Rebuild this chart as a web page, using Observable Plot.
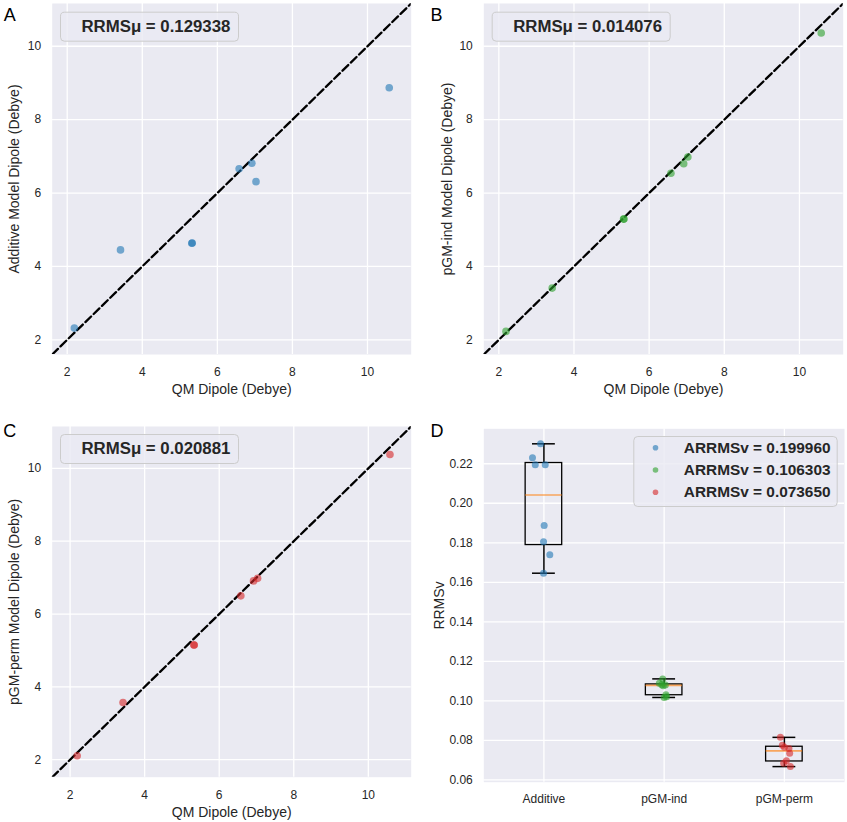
<!DOCTYPE html>
<html><head><meta charset="utf-8">
<script src="https://cdn.jsdelivr.net/npm/d3@7"></script>
<script src="https://cdn.jsdelivr.net/npm/@observablehq/plot@0.6"></script>
<style>
body{margin:0;background:#fff;}
#wrap{position:relative;width:847px;height:822px;overflow:hidden;}
#wrap svg{position:absolute;}
</style></head><body><div id="wrap"></div>
<script>
// ---- data ----
const qmDipole       = [2.19, 3.42, 5.32, 5.33, 6.58, 6.92, 7.03, 10.58];
const additiveDipole = [2.32, 4.45, 4.63, 4.64, 6.66, 6.81, 6.31, 8.87];
const pgmIndDipole   = [2.23, 3.41, 5.29, 5.29, 6.54, 6.80, 6.98, 10.36];
const pgmPermDipole  = [2.11, 3.57, 5.15, 5.15, 6.50, 6.91, 6.98, 10.38];
const rrmsMu = ["0.129338", "0.014076", "0.020881"];
const dipoleTicks = [2, 4, 6, 8, 10];

const categories = ["Additive", "pGM-ind", "pGM-perm"];
const rrmsvAdditive = [0.2301, 0.2230, 0.2195, 0.2195, 0.1888, 0.1805, 0.1739, 0.1646];
const jitterAdditive = [-0.028, -0.095, -0.072, 0.011, 0.002, -0.003, 0.049, -0.003];
const rrmsvInd = [0.1111, 0.1089, 0.1081, 0.1080, 0.1076, 0.1031, 0.1020, 0.1017];
const jitterInd = [-0.012, -0.04, -0.02, 0.01, -0.008, 0.015, 0.02, 0.0];
const rrmsvPerm = [0.0815, 0.0775, 0.0765, 0.0758, 0.0735, 0.0696, 0.0684, 0.0667];
const jitterPerm = [-0.033, -0.017, 0.0, 0.038, 0.044, 0.017, -0.006, 0.05];
const arrmsv = ["0.199960", "0.106303", "0.073650"];
const rrmsvTicks = [0.06, 0.08, 0.10, 0.12, 0.14, 0.16, 0.18, 0.20, 0.22];

const colors = ["#1f77b4", "#2ca02c", "#d62728"];
const BG = "#EAEAF2";
const FONT = "'Liberation Sans', Arial, sans-serif";
const INK = "#262626";

const wrap = document.getElementById("wrap");

function place(svg, left, top) {
  svg.style.left = left + "px";
  svg.style.top = top + "px";
  wrap.appendChild(svg);
}

function scatterPanel(o) {
  const data = qmDipole.map((q, i) => ({x: q, y: o.yValues[i]}));
  const diag = o.domain.map(v => ({x: v, y: v}));
  const frameW = o.width - o.ml - o.mr;
  const frameH = o.height - o.mt - o.mb;
  return Plot.plot({
    width: o.width, height: o.height,
    marginLeft: o.ml, marginRight: o.mr, marginTop: o.mt, marginBottom: o.mb,
    style: {background: "transparent", fontFamily: FONT, fontSize: "12px", color: INK, overflow: "visible"},
    x: {domain: o.domain},
    y: {domain: o.domain},
    marks: [
      Plot.frame({fill: BG, stroke: null}),
      Plot.gridX(dipoleTicks, {stroke: "white", strokeOpacity: 1, strokeWidth: 1.3}),
      Plot.gridY(dipoleTicks, {stroke: "white", strokeOpacity: 1, strokeWidth: 1.3}),
      Plot.axisX(dipoleTicks, {tickSize: 0, tickPadding: 13, label: null, fontSize: 12}),
      Plot.axisY(dipoleTicks, {tickSize: 0, tickPadding: 11, label: null, fontSize: 12}),
      Plot.line(diag, {x: "x", y: "y", stroke: "black", strokeWidth: 2.3, strokeDasharray: "8,3.6", clip: true}),
      Plot.dot(data, {x: "x", y: "y", r: 3.8, fill: o.color, fillOpacity: 0.6, stroke: null}),
      // legend box
      Plot.frame({fill: BG, fillOpacity: 0.8, stroke: "#cccccc", strokeWidth: 1, rx: 4,
        insetLeft: o.legL, insetRight: frameW - o.legL - 178, insetTop: o.legT, insetBottom: frameH - o.legT - 29}),
      Plot.text(["RRMSμ = " + o.mu], {frameAnchor: "top-left", dx: o.legL + 21, dy: o.legT + 19.3,
        lineAnchor: "bottom", textAnchor: "start", fontSize: 16.8, fontWeight: "bold", fill: INK}),
      // axis labels
      Plot.text(["QM Dipole (Debye)"], {frameAnchor: "bottom", dy: o.xlabDy, lineAnchor: "middle", fontSize: 14, fill: INK}),
      Plot.text([o.ylabel], {frameAnchor: "left", dx: o.ylabDx, rotate: -90, lineAnchor: "middle", textAnchor: "middle", fontSize: 14, fill: INK}),
      // panel letter
      Plot.text([o.letter], {frameAnchor: "top-left", dx: o.letDx, dy: o.letDy, lineAnchor: "bottom", textAnchor: "start", fontSize: 18, fill: "#000"})
    ]
  });
}

place(scatterPanel({yValues: additiveDipole, color: colors[0], ylabel: "Additive Model Dipole (Debye)", mu: rrmsMu[0], letter: "A",
  domain: [1.6, 11.165], width: 420, height: 400, ml: 51.7, mr: 9.3, mt: 3, mb: 46,
  legL: 8.3, legT: 8.7, xlabDy: 34.8, ylabDx: -38, letDx: -48.4, letDy: 17.7}), 0, 0);

place(scatterPanel({yValues: pgmIndDipole, color: colors[1], ylabel: "pGM-ind Model Dipole (Debye)", mu: rrmsMu[1], letter: "B",
  domain: [1.6, 11.165], width: 427, height: 400, ml: 63.3, mr: 4.3, mt: 3, mb: 46,
  legL: 8.4, legT: 8.7, xlabDy: 34.8, ylabDx: -35.8, letDx: -53.3, letDy: 17.7}), 420, 0);

place(scatterPanel({yValues: pgmPermDipole, color: colors[2], ylabel: "pGM-perm Model Dipole (Debye)", mu: rrmsMu[2], letter: "C",
  domain: [1.52, 11.15], width: 420, height: 422, ml: 51.7, mr: 9.3, mt: 26, mb: 45.3,
  legL: 8.3, legT: 8, xlabDy: 35, ylabDx: -37.2, letDx: -49, letDy: 10.7}), 0, 400);

// ---- panel D ----
const series = [rrmsvAdditive, rrmsvInd, rrmsvPerm];
const jitters = [jitterAdditive, jitterInd, jitterPerm];
const points = series.flatMap((vals, g) => vals.map((v, i) => ({x: g + 1 + jitters[g][i], y: v, g})));
const stats = series.map((vals, g) => {
  const s = vals.slice().sort(d3.ascending);
  const q1 = d3.quantile(s, 0.25), med = d3.quantile(s, 0.5), q3 = d3.quantile(s, 0.75);
  const iqr = q3 - q1;
  const lo = d3.min(s.filter(v => v >= q1 - 1.5 * iqr));
  const hi = d3.max(s.filter(v => v <= q3 + 1.5 * iqr));
  return {pos: g + 1, q1, med, q3, lo, hi};
});
const boxHalf = 0.152, capHalf = 0.095;
const dW = 427, dH = 422, dML = 63.3, dMR = 3, dMT = 28.3, dMB = 40.3;
const dFrameW = dW - dML - dMR, dFrameH = dH - dMT - dMB;

const panelD = Plot.plot({
  width: dW, height: dH,
  marginLeft: dML, marginRight: dMR, marginTop: dMT, marginBottom: dMB,
  style: {background: "transparent", fontFamily: FONT, fontSize: "12px", color: INK, overflow: "visible"},
  x: {domain: [0.5, 3.5]},
  y: {domain: [0.0588, 0.2377]},
  marks: [
    Plot.frame({fill: BG, stroke: null}),
    Plot.gridX([1, 2, 3], {stroke: "white", strokeOpacity: 1, strokeWidth: 1.3}),
    Plot.gridY(rrmsvTicks, {stroke: "white", strokeOpacity: 1, strokeWidth: 1.3}),
    Plot.axisX([1, 2, 3], {tickSize: 0, tickPadding: 12, label: null, fontSize: 12, tickFormat: d => categories[d - 1]}),
    Plot.axisY(rrmsvTicks, {tickSize: 0, tickPadding: 11, label: null, fontSize: 12, tickFormat: d3.format(".2f")}),
    // boxes
    Plot.rect(stats, {x1: d => d.pos - boxHalf, x2: d => d.pos + boxHalf, y1: "q1", y2: "q3", fill: "none", stroke: "black", strokeWidth: 1.3}),
    Plot.ruleX(stats, {x: "pos", y1: "q3", y2: "hi", stroke: "black", strokeWidth: 1.5}),
    Plot.ruleX(stats, {x: "pos", y1: "q1", y2: "lo", stroke: "black", strokeWidth: 1.5}),
    Plot.ruleY(stats, {y: "hi", x1: d => d.pos - capHalf, x2: d => d.pos + capHalf, stroke: "black", strokeWidth: 1.5}),
    Plot.ruleY(stats, {y: "lo", x1: d => d.pos - capHalf, x2: d => d.pos + capHalf, stroke: "black", strokeWidth: 1.5}),
    Plot.ruleY(stats, {y: "med", x1: d => d.pos - boxHalf, x2: d => d.pos + boxHalf, stroke: "#ff7f0e", strokeOpacity: 0.65, strokeWidth: 1.6}),
    Plot.dot(points, {x: "x", y: "y", r: 3.5, fill: d => colors[d.g], fillOpacity: 0.6, stroke: null}),
    // legend
    Plot.frame({fill: BG, fillOpacity: 0.8, stroke: "#cccccc", strokeWidth: 1, rx: 4,
      insetLeft: 150, insetRight: dFrameW - 150 - 203.4, insetTop: 7.7, insetBottom: dFrameH - 7.7 - 70}),
    ...arrmsv.map((t, i) => Plot.dot([t], {frameAnchor: "top-left", dx: 171.7, dy: 19 + 22.2 * i, r: 2.8, fill: colors[i], fillOpacity: 0.6, stroke: null})),
    ...arrmsv.map((t, i) => Plot.text(["ARRMSv = " + t], {frameAnchor: "top-left", dx: 200, dy: 24 + 22.2 * i,
      lineAnchor: "bottom", textAnchor: "start", fontSize: 15.4, fontWeight: "bold", fill: INK})),
    // y label
    Plot.text(["RRMSv"], {frameAnchor: "left", dx: -44.6, rotate: -90, lineAnchor: "middle", textAnchor: "middle", fontSize: 14, fill: INK}),
    Plot.text(["D"], {frameAnchor: "top-left", dx: -53.3, dy: 8.4, lineAnchor: "bottom", textAnchor: "start", fontSize: 18, fill: "#000"})
  ]
});
place(panelD, 420, 400);
</script></body></html>
